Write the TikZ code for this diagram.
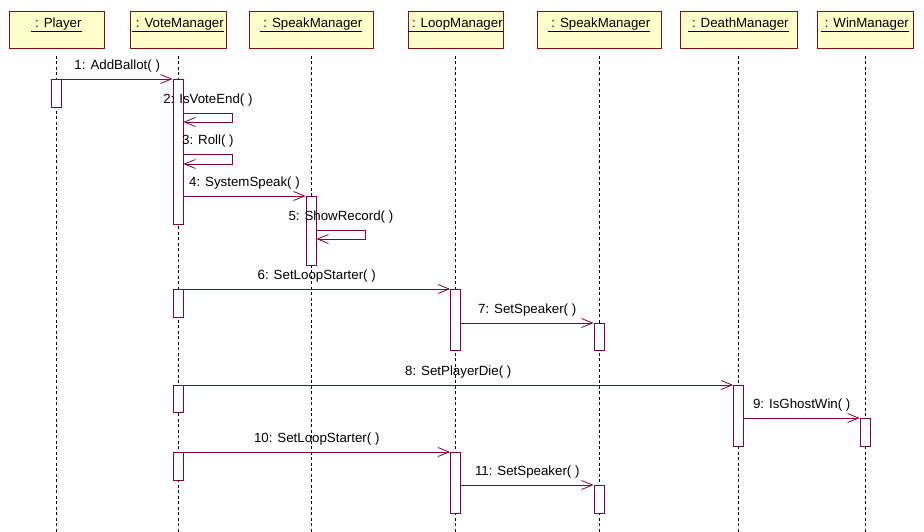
\documentclass[tikz,border=0pt]{standalone}
\usepackage{fontspec}
\setmainfont{Liberation Sans}
\usetikzlibrary{%
  positioning
 ,arrows.meta
}
\definecolor{umlline}{RGB}{128,0,64}
\definecolor{umlbox}{RGB}{128,16,16}
\definecolor{umlfill}{RGB}{255,255,204}
\tikzstyle{obj}=[draw=umlbox,fill=umlfill,line width=0.8pt,inner xsep=0pt,inner ysep=3pt,text height=13pt,text depth=18pt,anchor=north]
\tikzstyle{act}=[draw=umlline,fill=white,line width=0.8pt,minimum width=10pt,inner sep=0pt,anchor=north]
\tikzstyle{life}=[dash pattern=on 3pt off 2.5pt,line width=0.7pt]
\tikzstyle{msg}=[draw=umlline,line width=0.8pt,-{Straight Barb[length=11pt,width=9pt]}]
\tikzstyle{lbl}=[above=4pt,inner sep=2pt,text=black]

\begin{document}
\begin{tikzpicture}[x=1pt,y=-1pt,on grid,font=\fontsize{13.3}{16}\selectfont]
  \useasboundingbox (0,0) rectangle (924,532);
  \node[obj,minimum width=95pt]  (player) at (56.5,11)           {\underline{\ : Player}};
  \node[obj,minimum width=96pt]  (vote)   [right=121.5pt of player] {\underline{\ : VoteManager}};
  \node[obj,minimum width=124pt] (speak)  [right=133pt of vote]     {\underline{\ : SpeakManager}};
  \node[obj,minimum width=95pt]  (loop)   [right=144.5pt of speak]  {\underline{\ : LoopManager}};
  \node[obj,minimum width=124pt] (speakb) [right=143.5pt of loop]   {\underline{\ : SpeakManager}};
  \node[obj,minimum width=117pt] (death)  [right=139.5pt of speakb] {\underline{\ : DeathManager}};
  \node[obj,minimum width=96pt]  (win)    [right=126.5pt of death]  {\underline{\ : WinManager}};
% lifelines
  \foreach \o in {player,vote,speak,loop,speakb,death,win}
    \draw[life] ([yshift=-7pt]\o.south) -- (\o.south |- 0,532);
% activations
  \node[act,minimum height=28pt]  (pa1) at (player.south |- 0,79) {};
  \node[act,minimum height=145pt] (va1) at (vote.south |- 0,79)   {};
  \node[act,minimum height=69pt]  (sa1) at (speak.south |- 0,196) {};
  \node[act,minimum height=28pt]  (va2) at (vote.south |- 0,289)  {};
  \node[act,minimum height=61pt]  (la1) at (loop.south |- 0,289)  {};
  \node[act,minimum height=27pt]  (sb1) at (speakb.south |- 0,323) {};
  \node[act,minimum height=27pt]  (va3) at (vote.south |- 0,385)  {};
  \node[act,minimum height=61pt]  (da1) at (death.south |- 0,385) {};
  \node[act,minimum height=28pt]  (wa1) at (win.south |- 0,418)   {};
  \node[act,minimum height=28pt]  (va4) at (vote.south |- 0,452)  {};
  \node[act,minimum height=61pt]  (la2) at (loop.south |- 0,452)  {};
  \node[act,minimum height=28pt]  (sb2) at (speakb.south |- 0,485) {};
% messages
  \draw[msg] (pa1.north east) -- node[lbl] {1: AddBallot( )} (va1.north west);
  \draw[msg] (va1.east |- 0,113) -- node[lbl] {2: IsVoteEnd( )} ++(49,0) |- (va1.east |- 0,122);
  \draw[msg] (va1.east |- 0,154) -- node[lbl] {3: Roll( )} ++(49,0) |- (va1.east |- 0,164);
  \draw[msg] (va1.east |- sa1.north) -- node[lbl] {4: SystemSpeak( )} (sa1.north west);
  \draw[msg] (sa1.east |- 0,230) -- node[lbl] {5: ShowRecord( )} ++(49,0) |- (sa1.east |- 0,239);
  \draw[msg] (va2.north east) -- node[lbl] {6: SetLoopStarter( )} (la1.north west);
  \draw[msg] (la1.east |- sb1.north) -- node[lbl] {7: SetSpeaker( )} (sb1.north west);
  \draw[msg] (va3.north east) -- node[lbl] {8: SetPlayerDie( )} (da1.north west);
  \draw[msg] (da1.east |- wa1.north) -- node[lbl] {9: IsGhostWin( )} (wa1.north west);
  \draw[msg] (va4.north east) -- node[lbl] {10: SetLoopStarter( )} (la2.north west);
  \draw[msg] (la2.east |- sb2.north) -- node[lbl] {11: SetSpeaker( )} (sb2.north west);
\end{tikzpicture}
\end{document}
